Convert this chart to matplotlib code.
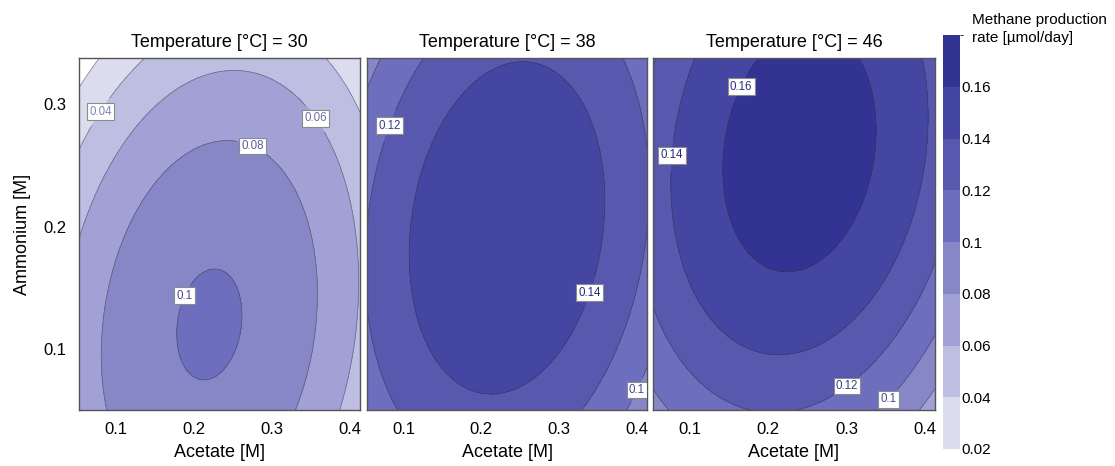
import matplotlib
matplotlib.use("Agg")
import matplotlib.pyplot as plt
import numpy as np
from matplotlib.colors import ListedColormap, BoundaryNorm, to_rgb

plt.rcParams["font.family"] = ["Liberation Sans", "DejaVu Sans"]

# response surface, one set of coefficients per temperature
temps = [30, 38, 46]
peak_rate = [0.102, 0.158, 0.171]
acetate_opt = [0.22, 0.233, 0.24]
ammonium_opt = [0.12, 0.199, 0.263]
curv_acetate = [1.18, 1.17, 1.18]
curv_ammonium = [1.0, 1.0, 1.13]
cross_term = [0.36, 0.35, 0.37]

levels = [0.02, 0.04, 0.06, 0.08, 0.10, 0.12, 0.14, 0.16, 0.18]
band_colors = ["#dcdcef", "#bebee3", "#a1a1d6", "#8787c8",
               "#6e6ebe", "#5858ae", "#4545a2", "#333394"]
cbar_ticks = [0.02, 0.04, 0.06, 0.08, 0.10, 0.12, 0.14, 0.16]
x_ticks = [0.1, 0.2, 0.3, 0.4]
y_ticks = [0.1, 0.2, 0.3]

acetate = np.linspace(0.053, 0.413, 300)
ammonium = np.linspace(0.05, 0.338, 300)
A, N = np.meshgrid(acetate, ammonium)

cmap = ListedColormap(band_colors)
norm = BoundaryNorm(levels, cmap.N)

fig = plt.figure(figsize=(11.15, 4.66), dpi=100)
W, H = 1115, 466
boxes = [(79, 360), (367, 647), (653, 935)]

# where the labels sit (data coords)
label_spots = [
    [(0.083, 0.293), (0.355, 0.288), (0.275, 0.265), (0.19, 0.143)],
    [(0.085, 0.282), (0.339, 0.146), (0.395, 0.068)],
    [(0.161, 0.316), (0.0835, 0.258), (0.2995, 0.0705), (0.3516, 0.06)],
]

for i, t in enumerate(temps):
    x0, x1 = boxes[i]
    ax = fig.add_axes([x0 / W, (H - 410) / H, (x1 - x0) / W, 352 / H])
    dA = A - acetate_opt[i]
    dN = N - ammonium_opt[i]
    Z = (peak_rate[i] - curv_acetate[i] * dA**2 - curv_ammonium[i] * dN**2
         + cross_term[i] * dA * dN)
    cf = ax.contourf(A, N, Z, levels=levels, cmap=cmap, norm=norm)
    cl = ax.contour(A, N, Z, levels=levels, colors="#333333",
                    linewidths=0.6, alpha=0.45)
    texts = ax.clabel(cl, manual=label_spots[i], inline=True, fontsize=8.3,
                      fmt=lambda v: f"{v:g}")
    for txt in texts:
        txt.set_rotation(0)
        v = float(txt.get_text())
        k = min(int(round((v - 0.02) / 0.02)) + 1, len(band_colors) - 1)
        c = np.array(to_rgb(band_colors[k])) * 0.82
        txt.set_color(c)
        txt.set_bbox(dict(boxstyle="square,pad=0.2", fc="white",
                          ec="#8a8a8a", lw=0.8))
    ax.set_xlim(0.053, 0.413)
    ax.set_ylim(0.05, 0.338)
    ax.set_xticks(x_ticks)
    ax.set_xticklabels([f"{v:g}" for v in x_ticks])
    ax.set_yticks(y_ticks)
    if i == 0:
        ax.set_yticklabels([f"{v:g}" for v in y_ticks])
        ax.set_ylabel("Ammonium [M]", fontsize=13, labelpad=9)
    else:
        ax.set_yticklabels([])
    ax.tick_params(length=0, labelsize=12, pad=9)
    ax.set_xlabel("Acetate [M]", fontsize=13, labelpad=5)
    ax.set_title(f"Temperature [°C] = {t}", fontsize=13, pad=8)
    for s in ax.spines.values():
        s.set_color("#555555")
        s.set_linewidth(1.0)

cax = fig.add_axes([943 / W, (H - 449) / H, 17 / W, 414 / H])
cb = fig.colorbar(cf, cax=cax, ticks=cbar_ticks)
cb.outline.set_visible(False)
cb.ax.set_yticklabels([f"{v:g}" for v in cbar_ticks])
cb.ax.tick_params(length=0, labelsize=11, pad=1)
fig.text(972 / W, (H - 13) / H, "Methane production\nrate [µmol/day]",
         fontsize=11, ha="left", va="top", linespacing=1.35)

fig.savefig("out.png", dpi=100)
